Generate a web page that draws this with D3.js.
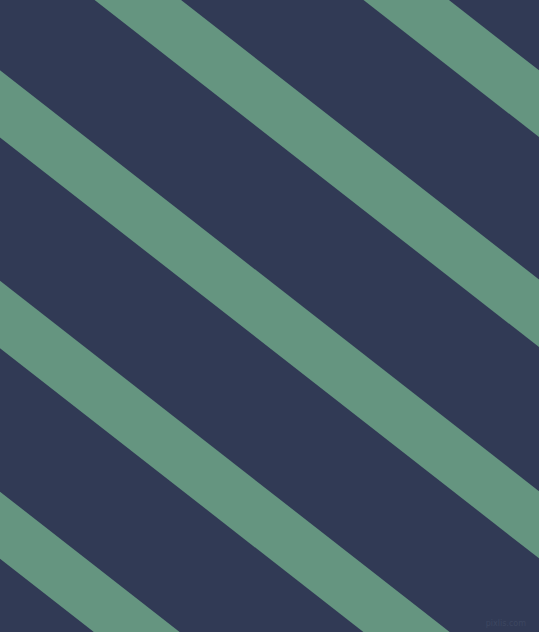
<!DOCTYPE html>
<html>
<head>
<meta charset="utf-8">
<script src="https://cdn.jsdelivr.net/npm/d3@7"></script>
<style>
  html, body { margin: 0; padding: 0; background: #313a55; overflow: hidden; }
  svg { display: block; }
</style>
</head>
<body>
<div id="pattern"></div>
<script>
// where each band's upper and lower edge cross the left side
const bandTops = [-350.6, -141.4, 70.2, 280.8, 491.7]
const bandBottoms = [-283.9, -73.9, 137.4, 348.2, 558.7]
const bandSlope = 0.781 // about 38 degrees, falling to the right
const watermark = 'pixlis.com'

const drawPattern = () => {
  const dims = { width: 539, height: 632 }

  const svg = d3
    .select('#pattern')
    .append('svg')
    .attr('width', dims.width)
    .attr('height', dims.height)

  // identity scales, picture units in pixels
  const xScale = d3.scaleLinear().domain([0, dims.width]).range([0, dims.width])
  const yScale = d3.scaleLinear().domain([0, dims.height]).range([0, dims.height])

  svg
    .append('rect')
    .attr('width', dims.width)
    .attr('height', dims.height)
    .attr('fill', '#313a55')

  const line = d3
    .line()
    .x((p) => xScale(p[0]))
    .y((p) => yScale(p[1]))

  const bands = bandTops.map((top, i) => ({ top, bottom: bandBottoms[i] }))

  // each band is a parallelogram running across the full width
  const x0 = -20
  const x1 = dims.width + 20
  svg
    .append('g')
    .selectAll('path')
    .data(bands)
    .join('path')
    .attr('d', (b) =>
      line([
        [x0, b.top + bandSlope * x0],
        [x1, b.top + bandSlope * x1],
        [x1, b.bottom + bandSlope * x1],
        [x0, b.bottom + bandSlope * x0],
      ]) + 'Z'
    )
    .attr('fill', '#659580')

  svg
    .append('text')
    .attr('x', xScale(526))
    .attr('y', yScale(626))
    .attr('text-anchor', 'end')
    .attr('font-family', 'DejaVu Sans, sans-serif')
    .attr('font-size', '8px')
    .attr('fill', '#3d4761')
    .text(watermark)
}

drawPattern()
</script>
</body>
</html>
